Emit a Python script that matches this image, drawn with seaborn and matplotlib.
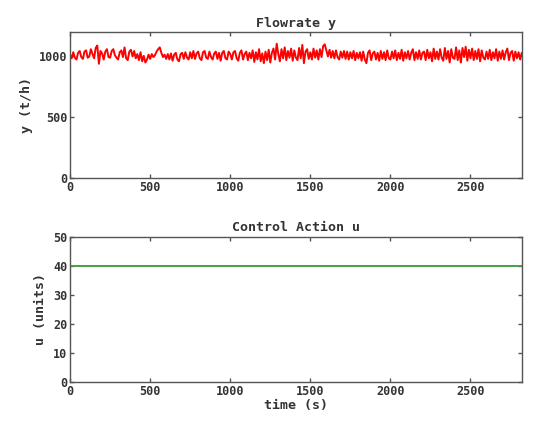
import numpy as np
import pandas as pd
import seaborn as sns
import matplotlib
matplotlib.use("Agg")
import matplotlib.pyplot as plt

# ---- data ----
time_step = 10
flow_y = [
    1015, 985, 1035, 990, 975, 1030, 1045, 995, 980, 1040,
    1050, 990, 1000, 1060, 1020, 985, 1070, 1090, 940, 1045,
    1025, 975, 1040, 1060, 995, 990, 1045, 1060, 1010, 990,
    975, 1035, 1050, 995, 1075, 985, 970, 1040, 1055, 1000,
    1045, 985, 1020, 970, 1035, 960, 1005, 950, 975, 1015,
    980, 1020, 995, 1010, 1040, 1060, 1075, 1030, 995, 1015,
    980, 1020, 975, 1025, 965, 1015, 1030, 975, 960, 1020,
    1030, 980, 1035, 990, 975, 1035, 985, 1045, 980, 1025,
    1040, 985, 970, 1035, 1045, 990, 980, 1040, 995, 975,
    1025, 1040, 980, 1030, 965, 1030, 1045, 985, 975, 1040,
    1020, 975, 1035, 1045, 985, 965, 1030, 1050, 975, 1020,
    1040, 970, 1030, 985, 1050, 955, 1035, 975, 1060, 960,
    1025, 945, 1040, 970, 1055, 950, 1030, 1065, 975, 1105,
    1020, 960, 1060, 985, 1075, 970, 1045, 990, 1065, 965,
    1050, 990, 970, 1070, 985, 1095, 945, 1040, 1060, 980,
    1035, 975, 1065, 990, 1050, 975, 1060, 995, 1085, 1100,
    1050, 1000, 1055, 990, 1045, 985, 1050, 995, 975, 1040,
    990, 1045, 980, 1040, 975, 1035, 985, 1045, 970, 1030,
    985, 1035, 965, 1040, 975, 945, 1030, 1050, 970, 1025,
    1040, 975, 1030, 965, 1045, 980, 1035, 970, 1050, 985,
    975, 1040, 985, 1050, 970, 1030, 980, 1055, 965, 1035,
    985, 1045, 975, 1030, 1060, 970, 1035, 980, 1050, 975,
    1030, 1040, 970, 1055, 985, 1035, 960, 1065, 980, 1040,
    975, 1060, 990, 965, 1070, 980, 1045, 950, 1060, 990,
    980, 1075, 970, 1050, 950, 1070, 995, 1080, 965, 1055,
    985, 1065, 970, 1045, 980, 1060, 960, 1050, 990, 975,
    1040, 980, 1055, 970, 1035, 985, 1060, 965, 1040, 980,
    1050, 975, 1035, 1065, 970, 1030, 1045, 965, 1040, 985,
    1035, 975, 1030,
]
control_value = 40
x_ticks = [0, 500, 1000, 1500, 2000, 2500]
y_ticks_top = [0, 500, 1000]
y_ticks_bottom = [0, 10, 20, 30, 40, 50]

time = [i * time_step for i in range(len(flow_y))]
control_u = [control_value] * len(time)
df = pd.DataFrame({"time": time, "y": flow_y, "u": control_u})

# ---- style ----
sns.set_style("ticks")
plt.rcParams["font.family"] = ["DejaVu Sans Mono", "DejaVu Sans"]
plt.rcParams["font.weight"] = "bold"

fig = plt.figure(figsize=(5.39, 4.23), dpi=100)
ax1 = fig.add_axes([0.130, 0.579, 0.838, 0.345])
ax2 = fig.add_axes([0.130, 0.097, 0.838, 0.343])

sns.lineplot(data=df, x="time", y="y", ax=ax1, color="#ff0000", linewidth=1.4)
sns.lineplot(data=df, x="time", y="u", ax=ax2, color="#4a9e4a", linewidth=1.4)

xmax = time[-1]
for ax in (ax1, ax2):
    ax.set_xlim(0, xmax)
    ax.set_xticks(x_ticks)
    ax.tick_params(direction="in", length=3, width=1, color="#555555",
                   top=True, right=True, labelsize=8.5, labelcolor="#333333", pad=2)
    for s in ax.spines.values():
        s.set_color("#555555")
        s.set_linewidth(1.0)
    for lab in ax.get_xticklabels() + ax.get_yticklabels():
        lab.set_fontweight("bold")

ax1.set_ylim(0, 1200)
ax1.set_yticks(y_ticks_top)
ax1.set_xlabel("")
ax1.set_ylabel("y (t/h)", fontsize=9.5, fontweight="bold", color="#333333", labelpad=4)
ax1.set_title("Flowrate y", fontsize=9.5, fontweight="bold", color="#333333", pad=4)

ax2.set_ylim(0, 50)
ax2.set_yticks(y_ticks_bottom)
ax2.set_xlabel("time (s)", fontsize=9.5, fontweight="bold", color="#333333", labelpad=1)
ax2.set_ylabel("u (units)", fontsize=9.5, fontweight="bold", color="#333333", labelpad=4)
ax2.set_title("Control Action u", fontsize=9.5, fontweight="bold", color="#333333", pad=4)

fig.savefig("out.png", dpi=100, facecolor="white")
